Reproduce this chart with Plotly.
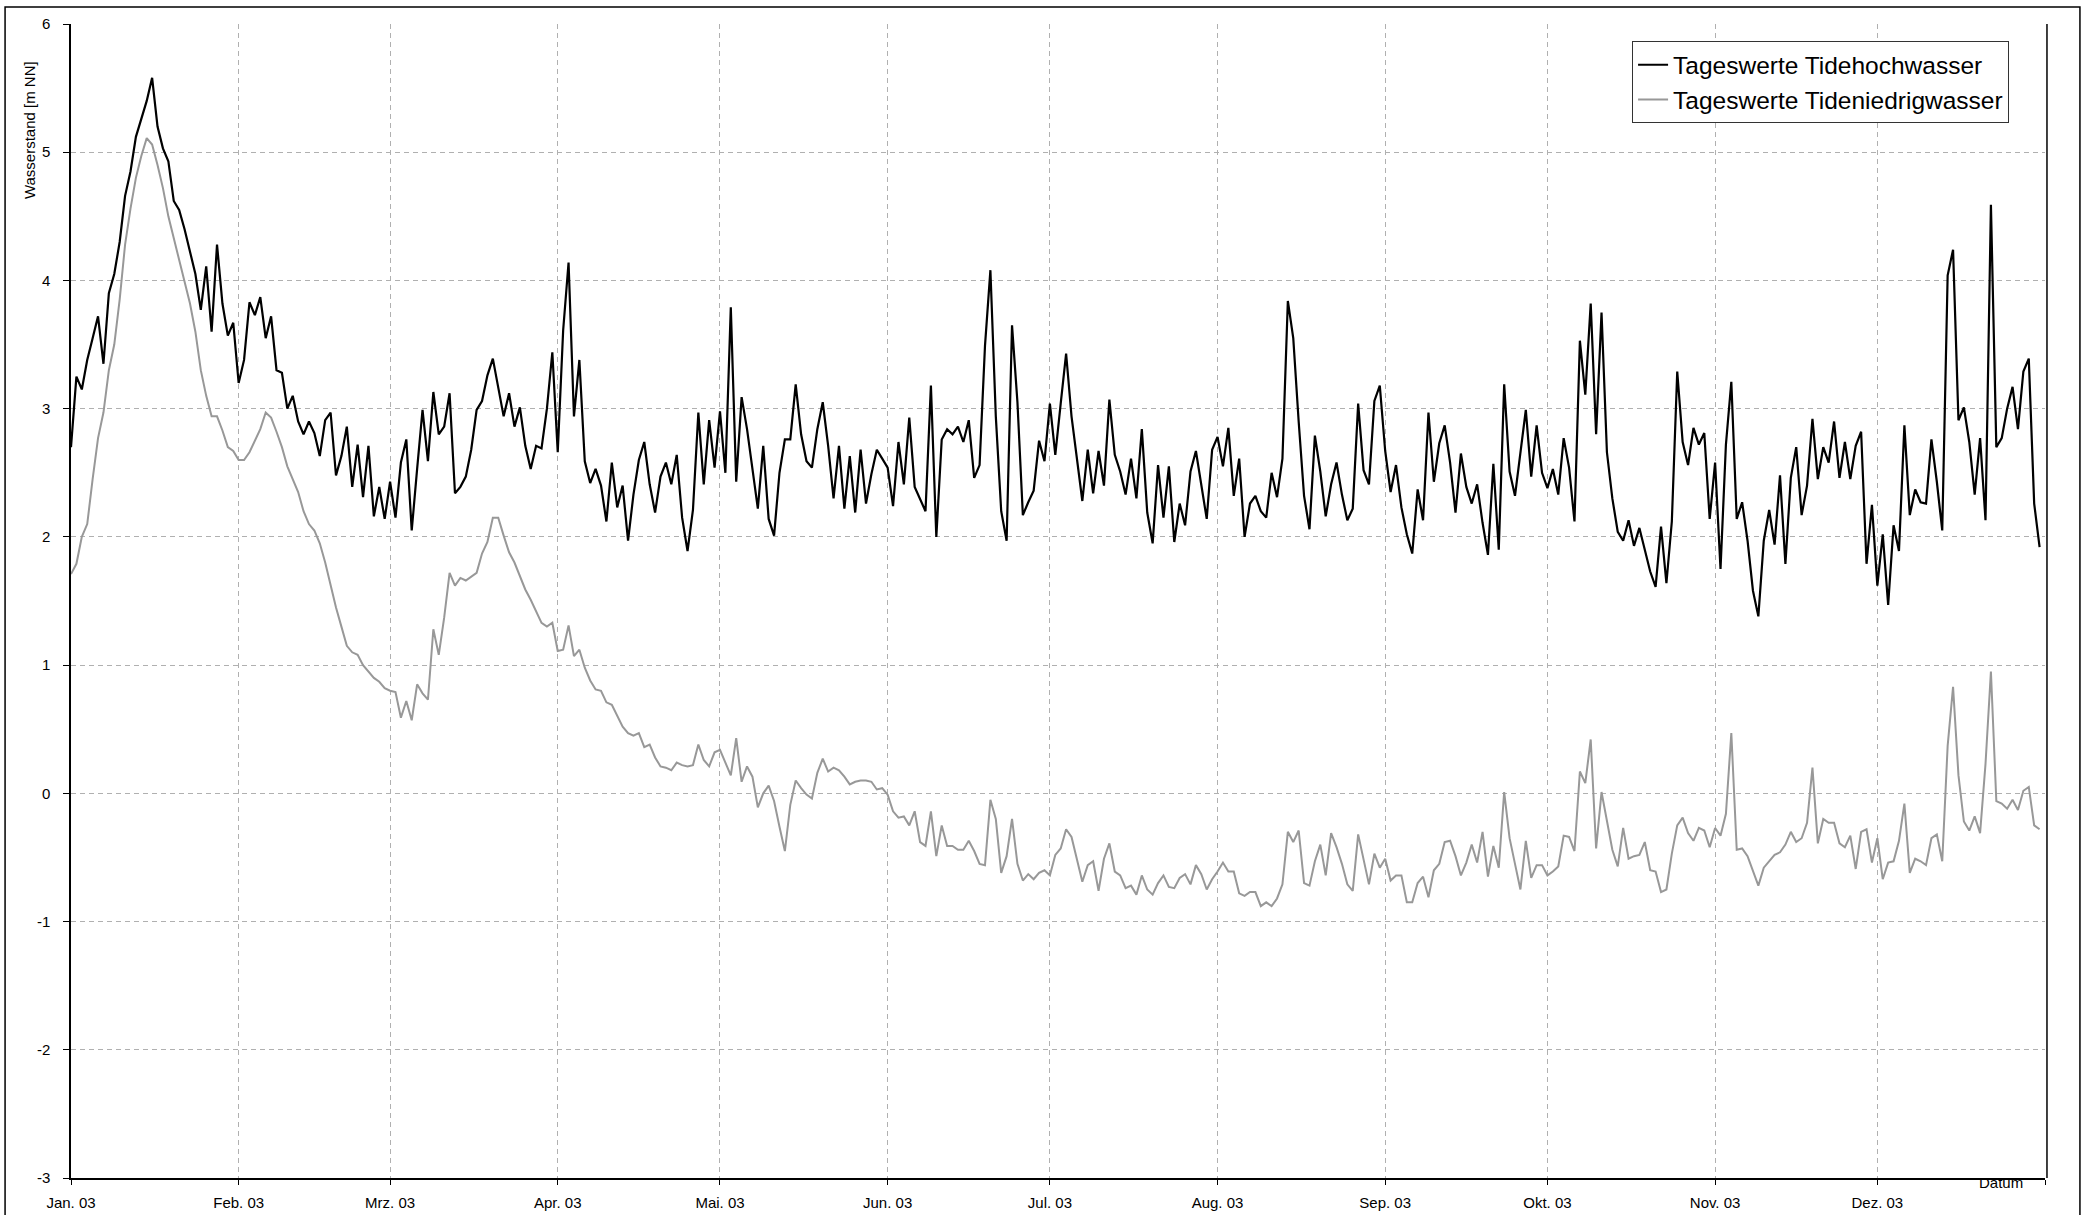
import pandas as pd
import plotly.graph_objects as go

# ---------------- data ----------------
MONTH_LABELS = ["Jan. 03", "Feb. 03", "Mrz. 03", "Apr. 03", "Mai. 03", "Jun. 03",
                "Jul. 03", "Aug. 03", "Sep. 03", "Okt. 03", "Nov. 03", "Dez. 03"]
Y_TICKS = [-3, -2, -1, 0, 1, 2, 3, 4, 5, 6]
Y_TICK_LABELS = ["-3", "-2", "-1", "0", "1", "2", "3", "4", "5", "6"]

# Tageswerte Tidehochwasser [m NN], one value per day
thw_jan = [2.7, 3.25, 3.15, 3.38, 3.55, 3.72, 3.35, 3.9, 4.05, 4.3,
           4.66, 4.85, 5.12, 5.26, 5.4, 5.58, 5.2, 5.03, 4.93, 4.62,
           4.55, 4.4, 4.22, 4.05, 3.77, 4.11, 3.6, 4.28, 3.82, 3.57, 3.67]
thw_feb = [3.2, 3.38, 3.83, 3.73, 3.87, 3.55, 3.72, 3.3, 3.28, 3.0,
           3.1, 2.9, 2.8, 2.9, 2.81, 2.63, 2.91, 2.97, 2.48, 2.63,
           2.86, 2.39, 2.72, 2.31, 2.71, 2.16, 2.39, 2.14]
thw_mar = [2.43, 2.15, 2.58, 2.76, 2.05, 2.53, 2.99, 2.59, 3.13, 2.8,
           2.86, 3.12, 2.34, 2.39, 2.47, 2.68, 2.99, 3.06, 3.26, 3.39,
           3.16, 2.94, 3.12, 2.86, 3.01, 2.71, 2.53, 2.71, 2.69, 3.0, 3.44]
thw_apr = [2.66, 3.61, 4.14, 2.94, 3.38, 2.59, 2.42, 2.53, 2.4, 2.12,
           2.58, 2.23, 2.4, 1.97, 2.33, 2.6, 2.74, 2.41, 2.19, 2.47,
           2.58, 2.41, 2.64, 2.15, 1.89, 2.21, 2.97, 2.41, 2.91, 2.54]
thw_may = [2.98, 2.5, 3.79, 2.43, 3.09, 2.84, 2.53, 2.22, 2.71, 2.14,
           2.01, 2.5, 2.76, 2.76, 3.19, 2.8, 2.59, 2.54, 2.84, 3.05,
           2.71, 2.3, 2.71, 2.22, 2.63, 2.19, 2.68, 2.26, 2.49, 2.68, 2.61]
thw_jun = [2.54, 2.24, 2.74, 2.41, 2.93, 2.39, 2.3, 2.2, 3.18, 2.0,
           2.76, 2.84, 2.8, 2.86, 2.74, 2.91, 2.46, 2.56, 3.49, 4.08,
           2.94, 2.2, 1.97, 3.65, 3.05, 2.17, 2.27, 2.36, 2.75, 2.59]
thw_jul = [3.04, 2.64, 3.04, 3.43, 2.94, 2.6, 2.28, 2.68, 2.34, 2.67,
           2.4, 3.07, 2.64, 2.51, 2.33, 2.61, 2.3, 2.84, 2.19, 1.95,
           2.56, 2.15, 2.55, 1.96, 2.26, 2.09, 2.51, 2.67, 2.4, 2.14, 2.68]
thw_aug = [2.78, 2.55, 2.85, 2.32, 2.61, 2.0, 2.26, 2.32, 2.2, 2.15,
           2.5, 2.31, 2.61, 3.84, 3.55, 2.9, 2.32, 2.06, 2.79, 2.51,
           2.16, 2.41, 2.58, 2.33, 2.13, 2.22, 3.04, 2.52, 2.41, 3.06, 3.18]
thw_sep = [2.67, 2.35, 2.56, 2.23, 2.02, 1.87, 2.37, 2.13, 2.97, 2.43,
           2.73, 2.87, 2.58, 2.19, 2.65, 2.39, 2.26, 2.41, 2.11, 1.86,
           2.57, 1.9, 3.19, 2.51, 2.32, 2.66, 2.99, 2.47, 2.87, 2.5]
thw_oct = [2.38, 2.53, 2.33, 2.77, 2.54, 2.12, 3.53, 3.11, 3.82, 2.8,
           3.75, 2.66, 2.3, 2.04, 1.97, 2.13, 1.93, 2.07, 1.89, 1.73,
           1.61, 2.08, 1.64, 2.12, 3.29, 2.74, 2.56, 2.85, 2.72, 2.81, 2.14]
thw_nov = [2.58, 1.75, 2.72, 3.21, 2.14, 2.27, 1.97, 1.58, 1.38, 1.97,
           2.21, 1.94, 2.48, 1.79, 2.46, 2.7, 2.17, 2.4, 2.92, 2.45,
           2.7, 2.58, 2.9, 2.46, 2.74, 2.45, 2.71, 2.82, 1.79, 2.25]
thw_dec = [1.62, 2.02, 1.47, 2.09, 1.89, 2.87, 2.17, 2.37, 2.27, 2.26,
           2.76, 2.43, 2.05, 4.04, 4.24, 2.91, 3.01, 2.74, 2.33, 2.77,
           2.13, 4.59, 2.7, 2.77, 3.0, 3.17, 2.84, 3.29, 3.39, 2.26, 1.92]

# Tageswerte Tideniedrigwasser [m NN], one value per day
tnw_jan = [1.71, 1.79, 2.0, 2.1, 2.45, 2.77, 2.97, 3.3, 3.5, 3.85,
           4.28, 4.56, 4.8, 4.97, 5.11, 5.06, 4.9, 4.72, 4.5, 4.33,
           4.18, 4.0, 3.82, 3.6, 3.3, 3.1, 2.94, 2.94, 2.83, 2.7, 2.67]
tnw_feb = [2.6, 2.6, 2.66, 2.75, 2.84, 2.97, 2.93, 2.82, 2.7, 2.55,
           2.45, 2.35, 2.2, 2.1, 2.05, 1.95, 1.8, 1.62, 1.45, 1.3,
           1.15, 1.1, 1.08, 1.0, 0.95, 0.9, 0.87, 0.82]
tnw_mar = [0.8, 0.79, 0.59, 0.72, 0.57, 0.85, 0.78, 0.73, 1.28, 1.08,
           1.37, 1.72, 1.62, 1.68, 1.66, 1.69, 1.72, 1.87, 1.96, 2.15,
           2.15, 2.01, 1.88, 1.8, 1.7, 1.59, 1.51, 1.42, 1.33, 1.3, 1.33]
tnw_apr = [1.11, 1.12, 1.31, 1.07, 1.12, 0.98, 0.88, 0.81, 0.8, 0.71,
           0.69, 0.61, 0.52, 0.47, 0.45, 0.47, 0.36, 0.38, 0.28, 0.21,
           0.2, 0.18, 0.24, 0.22, 0.21, 0.22, 0.38, 0.26, 0.21, 0.32]
tnw_may = [0.34, 0.24, 0.14, 0.43, 0.09, 0.21, 0.13, -0.11, 0.0, 0.06,
           -0.06, -0.26, -0.45, -0.09, 0.1, 0.04, -0.01, -0.04, 0.16, 0.27,
           0.17, 0.2, 0.18, 0.13, 0.07, 0.09, 0.1, 0.1, 0.09, 0.03, 0.04]
tnw_jun = [-0.01, -0.14, -0.19, -0.18, -0.25, -0.14, -0.38, -0.41, -0.14, -0.49,
           -0.25, -0.41, -0.41, -0.44, -0.44, -0.37, -0.45, -0.55, -0.56, -0.05,
           -0.2, -0.62, -0.49, -0.2, -0.55, -0.68, -0.63, -0.67, -0.62, -0.6]
tnw_jul = [-0.64, -0.48, -0.43, -0.28, -0.34, -0.51, -0.69, -0.56, -0.53, -0.76,
           -0.51, -0.39, -0.61, -0.64, -0.74, -0.72, -0.79, -0.64, -0.75, -0.79,
           -0.7, -0.64, -0.73, -0.74, -0.66, -0.63, -0.71, -0.56, -0.63, -0.75, -0.67]
tnw_aug = [-0.61, -0.54, -0.61, -0.61, -0.78, -0.8, -0.77, -0.77, -0.88, -0.85,
           -0.88, -0.82, -0.71, -0.3, -0.38, -0.29, -0.7, -0.72, -0.53, -0.4,
           -0.64, -0.31, -0.42, -0.55, -0.71, -0.76, -0.32, -0.51, -0.71, -0.47, -0.58]
tnw_sep = [-0.51, -0.68, -0.64, -0.64, -0.85, -0.85, -0.7, -0.65, -0.81, -0.6,
           -0.55, -0.38, -0.37, -0.49, -0.64, -0.54, -0.4, -0.54, -0.3, -0.65,
           -0.41, -0.58, 0.01, -0.35, -0.55, -0.75, -0.37, -0.66, -0.56, -0.56]
tnw_oct = [-0.64, -0.61, -0.57, -0.33, -0.34, -0.45, 0.17, 0.08, 0.42, -0.43,
           0.01, -0.2, -0.44, -0.57, -0.27, -0.51, -0.49, -0.48, -0.38, -0.6,
           -0.61, -0.77, -0.75, -0.47, -0.25, -0.19, -0.31, -0.37, -0.27, -0.29, -0.42]
tnw_nov = [-0.27, -0.33, -0.16, 0.47, -0.44, -0.43, -0.49, -0.6, -0.72, -0.58,
           -0.53, -0.48, -0.46, -0.4, -0.3, -0.38, -0.35, -0.23, 0.2, -0.39,
           -0.2, -0.23, -0.23, -0.39, -0.42, -0.33, -0.59, -0.3, -0.28, -0.54]
tnw_dec = [-0.35, -0.67, -0.54, -0.53, -0.37, -0.08, -0.62, -0.51, -0.53, -0.56,
           -0.35, -0.32, -0.53, 0.37, 0.83, 0.14, -0.22, -0.29, -0.18, -0.31,
           0.23, 0.95, -0.06, -0.08, -0.12, -0.05, -0.13, 0.02, 0.05, -0.25, -0.28]

high_water = (thw_jan + thw_feb + thw_mar + thw_apr + thw_may + thw_jun +
              thw_jul + thw_aug + thw_sep + thw_oct + thw_nov + thw_dec)
low_water = (tnw_jan + tnw_feb + tnw_mar + tnw_apr + tnw_may + tnw_jun +
             tnw_jul + tnw_aug + tnw_sep + tnw_oct + tnw_nov + tnw_dec)

dates = pd.date_range("2003-01-01", periods=len(high_water), freq="D")
dates_low = pd.date_range("2003-01-01", periods=len(low_water), freq="D")
month_starts = list(pd.date_range("2003-01-01", "2004-01-01", freq="MS"))

# ---------------- figure ----------------
FONT = "Liberation Sans, Arial, sans-serif"
GRID = "#b0b0b0"

fig = go.Figure()
fig.add_trace(go.Scatter(x=dates, y=high_water, mode="lines",
                         name="Tageswerte Tidehochwasser",
                         line=dict(color="#000000", width=2.2)))
fig.add_trace(go.Scatter(x=dates_low, y=low_water, mode="lines",
                         name="Tageswerte Tideniedrigwasser",
                         line=dict(color="#989898", width=2)))

fig.update_layout(
    width=2091, height=1215,
    margin=dict(l=71, r=46, t=24, b=37, autoexpand=False),
    paper_bgcolor="white", plot_bgcolor="white",
    font=dict(family=FONT, size=15, color="black"),
    showlegend=True,
    legend=dict(x=0.9818, xanchor="right", y=0.985, yanchor="top",
                bgcolor="white", bordercolor="#333333", borderwidth=1,
                font=dict(family=FONT, size=24.5, color="black"),
                tracegroupgap=0),
    xaxis=dict(type="date", range=["2003-01-01", "2004-01-01"],
               tickvals=month_starts, ticktext=MONTH_LABELS + [""],
               showgrid=True, gridcolor=GRID, gridwidth=1.3, griddash="5px,4px",
               showline=True, linecolor="black", linewidth=1.5,
               ticks="outside", ticklen=5, tickcolor="black", tickwidth=1,
               tickfont=dict(family=FONT, size=15, color="black"),
               ticklabelstandoff=5, zeroline=False, automargin=False),
    yaxis=dict(range=[-3, 6], tickvals=Y_TICKS, ticktext=Y_TICK_LABELS,
               showgrid=True, gridcolor=GRID, gridwidth=1.3, griddash="5px,4px",
               showline=True, linecolor="black", linewidth=1.5,
               ticks="outside", ticklen=6, tickcolor="black", tickwidth=1,
               tickfont=dict(family=FONT, size=15, color="black"),
               ticklabelstandoff=10, zeroline=False, automargin=False),
    annotations=[
        dict(text="Wasserstand [m NN]", textangle=-90, xref="paper", yref="paper",
             x=-0.0213, y=0.908, xanchor="center", yanchor="middle",
             showarrow=False, font=dict(family=FONT, size=15, color="black")),
        dict(text="Datum", xref="paper", yref="paper", x=0.9899, y=-0.004,
             xanchor="right", yanchor="middle", showarrow=False,
             font=dict(family=FONT, size=15, color="black")),
    ],
    shapes=[
        dict(type="line", xref="paper", yref="paper", x0=1.001, x1=1.001, y0=0, y1=1,
             line=dict(color="black", width=1.5)),
        dict(type="rect", xref="paper", yref="paper",
             x0=-0.0334, x1=1.0177, y0=-0.036, y1=1.0147,
             line=dict(color="black", width=1.5), fillcolor="rgba(0,0,0,0)"),
    ],
)

fig.write_html("out.html", config={"displayModeBar": False},
               post_script="document.body.style.margin='0';")
